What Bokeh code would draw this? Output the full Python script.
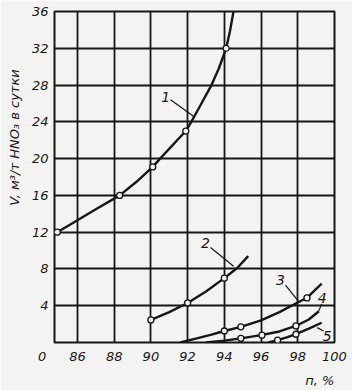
import math
from bokeh.plotting import figure
from bokeh.models import FixedTicker, LinearAxis, Label
from bokeh.embed import file_html
from bokeh.resources import INLINE

# ---- data ----
x_ticks = [86, 88, 90, 92, 94, 96, 98, 100]
y_ticks = [4, 8, 12, 16, 20, 24, 28, 32, 36]
x_min = 84.75

c1_x = [84.9, 86.0, 87.0, 88.3, 89.2, 90.1, 90.5, 91.9, 92.2, 92.7, 93.3, 93.7, 94.1, 94.3, 94.5]
c1_y = [12.0, 13.3, 14.5, 16.0, 17.45, 19.1, 20.0, 23.0, 24.0, 25.8, 28.0, 29.8, 32.0, 33.8, 36.0]
c1_mx = [84.9, 88.3, 90.1, 91.9, 94.1]
c1_my = [12.0, 16.0, 19.1, 23.0, 32.0]

c2_x = [90.0, 91.0, 92.0, 93.0, 94.0, 94.7, 95.3]
c2_y = [2.45, 3.3, 4.3, 5.55, 7.0, 8.1, 9.4]
c2_mx = [90.0, 92.0, 94.0]
c2_my = [2.45, 4.3, 7.0]

c3_x = [91.6, 92.5, 93.3, 94.0, 94.9, 96.0, 97.0, 98.0, 98.5, 99.3]
c3_y = [0.0, 0.45, 0.85, 1.25, 1.7, 2.4, 3.3, 4.35, 4.85, 6.4]
c3_mx = [94.0, 94.9, 98.5]
c3_my = [1.25, 1.7, 4.85]

c4_x = [93.0, 94.0, 94.9, 96.0, 97.0, 97.9, 98.6, 99.15]
c4_y = [0.0, 0.2, 0.45, 0.8, 1.2, 1.8, 2.5, 3.4]
c4_mx = [94.9, 96.05, 97.9]
c4_my = [0.45, 0.8, 1.8]

c5_x = [96.4, 96.9, 97.4, 97.9, 98.6, 99.3]
c5_y = [0.0, 0.25, 0.55, 0.9, 1.5, 2.15]
c5_mx = [96.9, 97.9]
c5_my = [0.25, 0.9]

curve_names = ["1", "2", "3", "4", "5"]
name_x = [90.8, 92.97, 97.06, 99.33, 99.6]
name_y = [26.7, 10.8, 6.8, 4.85, 0.75]
leader_x = [[91.07, 92.32], [93.25, 94.5], [97.33, 98.02], [99.15, 99.3], [99.06, 99.4]]
leader_y = [[26.4, 24.6], [10.34, 8.3], [6.25, 4.53], [3.45, 4.2], [1.62, 1.26]]

y_title = "V, м³/т HNO₃ в сутки"
y_title_at = 22.3
x_title = "п, %"
x_title_at = 99.2
origin_label = "0"

BG = "#f3f3f1"
INK = "#161616"
FONT = "DejaVu Sans"
NBSP = "\u00a0"

p = figure(width=352, height=390, x_range=(x_min, 100), y_range=(0, 36),
           output_backend="svg", toolbar_location=None,
           min_border_left=54, min_border_right=18, min_border_top=11, min_border_bottom=45,
           background_fill_color=BG, border_fill_color=BG)

p.outline_line_color = INK
p.outline_line_width = 2

p.xaxis.ticker = FixedTicker(ticks=[x_min] + x_ticks)
p.xaxis.major_label_overrides = {x_min: origin_label + NBSP * 6}
p.yaxis.ticker = FixedTicker(ticks=y_ticks)

# extra axes carrying the titles at the reference positions
x_title_axis = LinearAxis(ticker=FixedTicker(ticks=[x_title_at]),
                          major_label_overrides={x_title_at: x_title})
x_title_axis.major_label_standoff = 6
p.add_layout(x_title_axis, "below")

y_title_axis = LinearAxis(ticker=FixedTicker(ticks=[y_title_at]),
                          major_label_overrides={y_title_at: y_title})
y_title_axis.major_label_orientation = "vertical"
y_title_axis.major_label_standoff = 6
p.add_layout(y_title_axis, "left")

for ax in (p.xaxis[0], p.yaxis[0], x_title_axis, y_title_axis):
    ax.axis_line_color = None
    ax.major_tick_line_color = None
    ax.minor_tick_line_color = None
    ax.major_tick_in = 0
    ax.major_tick_out = 0
    ax.minor_tick_in = 0
    ax.minor_tick_out = 0
    ax.major_label_text_font = FONT
    ax.major_label_text_font_style = "italic"
    ax.major_label_text_font_size = "13px"
    ax.major_label_text_color = INK
p.xaxis[0].major_label_standoff = 6
p.yaxis[0].major_label_standoff = 6

p.xgrid.ticker = FixedTicker(ticks=x_ticks)
p.ygrid.ticker = FixedTicker(ticks=y_ticks)
for g in (p.xgrid, p.ygrid):
    g.grid_line_color = INK
    g.grid_line_width = 1.8
    g.grid_line_alpha = 1.0

curves = [(c1_x, c1_y, c1_mx, c1_my), (c2_x, c2_y, c2_mx, c2_my),
          (c3_x, c3_y, c3_mx, c3_my), (c4_x, c4_y, c4_mx, c4_my),
          (c5_x, c5_y, c5_mx, c5_my)]
for cx, cy, mx, my in curves:
    p.line(cx, cy, line_color=INK, line_width=2.4)
for cx, cy, mx, my in curves:
    p.scatter(mx, my, marker="circle", size=6, fill_color=BG, line_color=INK, line_width=1.3)

p.multi_line(leader_x, leader_y, line_color=INK, line_width=1.2)

for t, x, y in zip(curve_names, name_x, name_y):
    p.add_layout(Label(x=x, y=y, text=t, text_font=FONT, text_font_style="italic",
                       text_font_size="14px", text_color=INK,
                       text_align="center", text_baseline="middle"))

open("out.html", "w").write(file_html(p, INLINE))
